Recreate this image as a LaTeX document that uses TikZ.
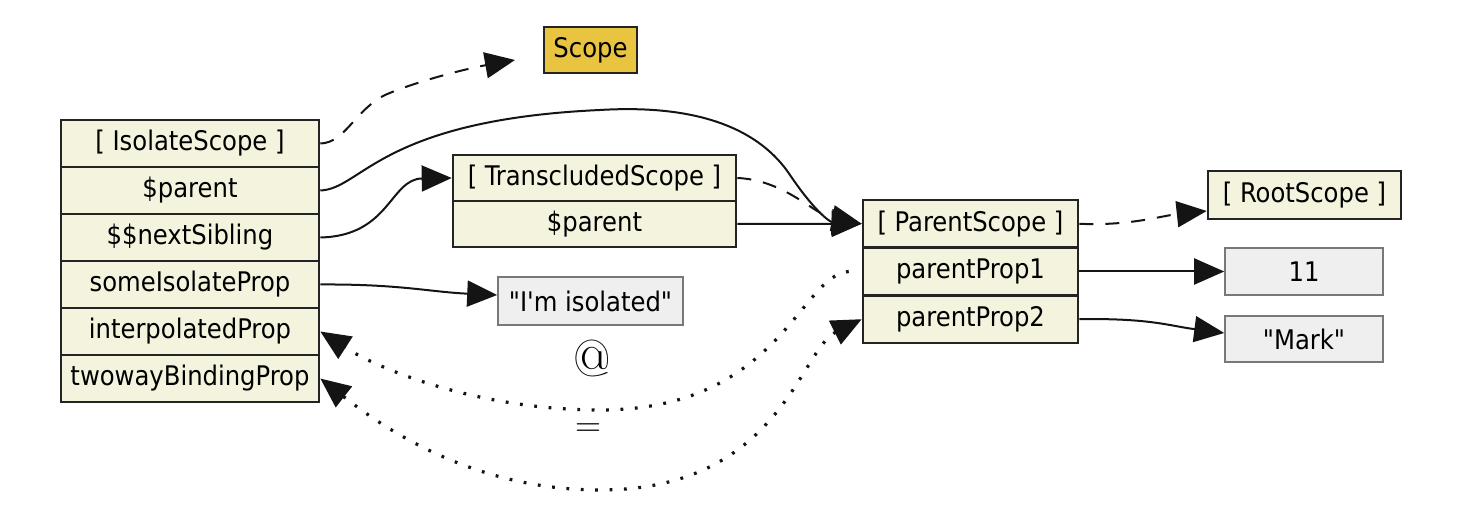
\documentclass[tikz,border=0pt]{standalone}
\usepackage{fontspec}
\setmainfont{DejaVu Sans Condensed}[Ligatures=TeXOff]
\usetikzlibrary{arrows.meta}
\definecolor{cream}{RGB}{244,243,222}
\definecolor{boxline}{RGB}{35,35,35}
\definecolor{valfill}{RGB}{239,239,239}
\definecolor{valline}{RGB}{120,120,120}
\definecolor{gold}{RGB}{232,196,64}
\definecolor{edge}{RGB}{20,20,20}
\tikzset{
  row/.style={draw=boxline, fill=cream, line width=1.3pt, inner sep=0pt, font=\fontsize{13.5}{15}\selectfont},
  valbox/.style={draw=valline, fill=valfill, line width=0.8pt, inner sep=0pt, font=\fontsize{13.5}{15}\selectfont},
  scopebox/.style={draw=boxline, fill=gold, line width=1.3pt, inner sep=0pt, font=\fontsize{13.5}{15}\selectfont},
  bigtip/.tip={Triangle[length=15pt,width=13pt]},
  conn/.style={draw=edge, line width=1pt, -bigtip},
  dashconn/.style={conn, dash pattern=on 7pt off 6pt},
  dotconn/.style={conn, line width=1.6pt, dash pattern=on 1.4pt off 5.8pt},
  lbl/.style={inner sep=0pt}
}
\begin{document}
\begin{tikzpicture}[x=0.5pt,y=-0.5pt]
\useasboundingbox (0,0) rectangle (1478,522);
% Scope
\node[scopebox, minimum width=46.5pt, minimum height=23pt] (scope) at (590.5,50) {Scope};
% Isolate scope stack
\node[row, minimum width=129pt, minimum height=23.5pt] (iso) at (190,143.5) {[ IsolateScope ]};
\node[row, minimum width=129pt, minimum height=23.5pt] (isoparent) at (190,190.5) {\$parent};
\node[row, minimum width=129pt, minimum height=23.5pt] (isonext) at (190,237.5) {\$\$nextSibling};
\node[row, minimum width=129pt, minimum height=23.5pt] (isoprop) at (190,284.5) {someIsolateProp};
\node[row, minimum width=129pt, minimum height=23.5pt] (interp) at (190,331.5) {interpolatedProp};
\node[row, minimum width=129pt, minimum height=23.5pt] (twoway) at (190,378.5) {twowayBindingProp};
% Transcluded scope
\node[row, minimum width=141.5pt, minimum height=23pt] (trans) at (594.5,178) {[ TranscludedScope ]};
\node[row, minimum width=141.5pt, minimum height=23pt] (transparent) at (594.5,224) {\$parent};
% Parent scope
\node[row, minimum width=107.5pt, minimum height=23.8pt] (pscope) at (970.5,223.8) {[ ParentScope ]};
\node[row, minimum width=107.5pt, minimum height=23.8pt] (pp1) at (970.5,271.5) {parentProp1};
\node[row, minimum width=107.5pt, minimum height=23.8pt] (pp2) at (970.5,319.2) {parentProp2};
% Root scope
\node[row, minimum width=96.5pt, minimum height=24pt] (root) at (1304.5,195) {[ RootScope ]};
% values
\node[valbox, minimum width=92.5pt, minimum height=24pt] (isoval) at (590.5,301) {"I'm isolated"};
\node[valbox, minimum width=79pt, minimum height=23.5pt] (val11) at (1304,271.5) {11};
\node[valbox, minimum width=79pt, minimum height=23pt] (valmark) at (1304,339) {"Mark"};
% labels
\node[lbl, font=\fontfamily{lmr}\fontsize{26}{26}\selectfont] (atlbl) at (592,358) {@};
\node[lbl, font=\fontfamily{lmr}\fontsize{18}{18}\selectfont] (eqlbl) at (588,430) {=};
\coordinate (scopetip) at (515,60);
% connectors
\draw[dashconn] (iso.east) .. controls (345,143) and (355,110) .. (385,95) .. controls (420,80) and (470,68) .. (scopetip);
\draw[conn] (isoparent.east) .. controls (362,189) and (380,120) .. (600,110)
  .. controls (700,104) and (760,130) .. (790,175)
  .. controls (815,212) and (830,222) .. (pscope.west);
\draw[conn] (isonext.east) .. controls (390,236) and (390,179) .. (trans.west);
\draw[dashconn] (trans.east) .. controls (785,180) and (815,215) .. (pscope.west);
\draw[conn] (transparent.east) -- (pscope.west);
\draw[dashconn] (pscope.east) .. controls (1130,226) and (1160,216) .. ([yshift=-8pt]root.west);
\draw[conn] (pp1.east) -- (val11.west);
\draw[conn] (pp2.east) .. controls (1150,318) and (1170,326) .. ([yshift=3pt]valmark.west);
\draw[conn] (isoprop.east) .. controls (400,284) and (430,292) .. ([yshift=3pt]isoval.west);
\draw[dotconn] ([xshift=-6.5pt]pp1.west) .. controls (800,275) and (780,410) .. (600,410)
  .. controls (480,410) and (380,370) .. (interp.east);
\draw[dotconn, bigtip-bigtip] (twoway.east) .. controls (380,425) and (470,490) .. (600,490)
  .. controls (780,490) and (800,350) .. (pp2.west);
\end{tikzpicture}
\end{document}
